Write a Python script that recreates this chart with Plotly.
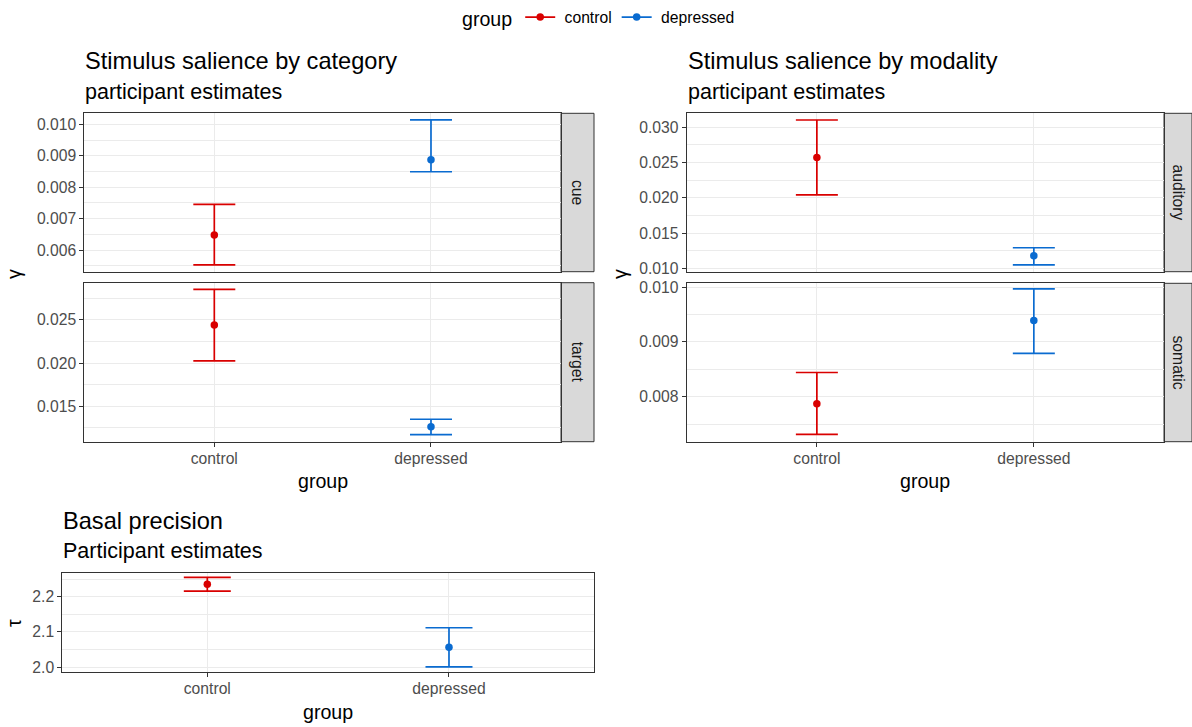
import plotly.graph_objects as go

W, H = 1192, 727

groups = ["control", "depressed"]

cue_mean = [0.00648, 0.00887]
cue_lo = [0.00553, 0.00849]
cue_hi = [0.00745, 0.01014]

target_mean = [0.02442, 0.01264]
target_lo = [0.02027, 0.01171]
target_hi = [0.02855, 0.01350]

auditory_mean = [0.02571, 0.01178]
auditory_lo = [0.02043, 0.01050]
auditory_hi = [0.03104, 0.01292]

somatic_mean = [0.007872, 0.00939]
somatic_lo = [0.007313, 0.00879]
somatic_hi = [0.008443, 0.00997]

basal_mean = [2.235, 2.057]
basal_lo = [2.216, 2.001]
basal_hi = [2.255, 2.112]

colors = {"control": "#D90000", "depressed": "#0A6BD0"}

FONT = "Liberation Sans, Arial, sans-serif"
TICK_COL = "#4D4D4D"
BORDER = "#333333"
GRID = "#EBEBEB"


def px_x(p):
    return p / W


def px_y(p):
    return 1 - p / H


fig = go.Figure()

# panels: (axis suffix, mean, lo, hi, x-pixel span, y-pixel span, y range, dtick, fmt, cap, bottom row)
panels = [
    ("", cue_mean, cue_lo, cue_hi, (84.3, 561), (113.3, 271.7), (0.00531, 0.01035), 0.001, ".3f", 21, False),
    ("2", target_mean, target_lo, target_hi, (84.3, 561), (282.7, 441.7), (0.0109, 0.02932), 0.005, ".3f", 21, True),
    ("3", auditory_mean, auditory_lo, auditory_hi, (686.7, 1164), (113.3, 271.7), (0.00952, 0.03199), 0.005, ".3f", 21, False),
    ("4", somatic_mean, somatic_lo, somatic_hi, (686.7, 1164), (283.3, 441.7), (0.00718, 0.01007), 0.001, ".3f", 21, True),
    ("5", basal_mean, basal_lo, basal_hi, (62.3, 594), (573.3, 671.7), (1.9875, 2.2663), 0.1, ".1f", 23.5, True),
]

layout_axes = {}
for suf, mean, lo, hi, xs, ys, yr, dt, fmt, cap, bottom in panels:
    for i, g in enumerate(groups):
        fig.add_trace(go.Scatter(
            x=[g], y=[mean[i]],
            mode="markers",
            marker=dict(color=colors[g], size=7.5),
            error_y=dict(type="data", symmetric=False,
                         array=[hi[i] - mean[i]], arrayminus=[mean[i] - lo[i]],
                         color=colors[g], thickness=1.7, width=cap),
            xaxis="x" + suf, yaxis="y" + suf,
            showlegend=False, hoverinfo="skip",
        ))
    layout_axes["xaxis" + suf] = dict(
        domain=[px_x(xs[0]), px_x(xs[1])],
        anchor="y" + suf,
        type="category", categoryorder="array", categoryarray=groups,
        range=[-0.6, 1.6],
        showgrid=True, gridcolor=GRID, gridwidth=1.1,
        showline=True, mirror=True, linecolor=BORDER, linewidth=1,
        ticks="outside" if bottom else "", ticklen=4, tickcolor=BORDER,
        showticklabels=bottom, ticklabelstandoff=-2,
        tickfont=dict(family=FONT, size=15.7, color=TICK_COL),
        zeroline=False, fixedrange=True,
    )
    layout_axes["yaxis" + suf] = dict(
        domain=[px_y(ys[1]), px_y(ys[0])],
        anchor="x" + suf,
        range=list(yr), dtick=dt, tick0=0, tickformat=fmt,
        showgrid=True, gridcolor=GRID, gridwidth=1.1,
        minor=dict(dtick=dt / 2, tick0=0, showgrid=True, gridcolor=GRID, gridwidth=0.6, ticks=""),
        showline=True, mirror=True, linecolor=BORDER, linewidth=1,
        ticks="outside", ticklen=4, tickcolor=BORDER,
        tickfont=dict(family=FONT, size=15.7, color=TICK_COL),
        zeroline=False, fixedrange=True,
    )

# legend-only entries (line + point key)
for g in groups:
    fig.add_trace(go.Scatter(
        x=[None], y=[None], mode="lines+markers", name="\u00a0" + g,
        line=dict(color=colors[g], width=1.7),
        marker=dict(color=colors[g], size=7.5),
        xaxis="x", yaxis="y", showlegend=True,
    ))

shapes = []
annotations = []

# facet strips
strips = [
    ("cue", (561, 594), (113.3, 271.7)),
    ("target", (561, 594), (282.7, 441.7)),
    ("auditory", (1164, 1192), (113.3, 271.7)),
    ("somatic", (1164, 1192), (283.3, 441.7)),
]
for label, xs, ys in strips:
    shapes.append(dict(type="rect", xref="paper", yref="paper",
                       x0=px_x(xs[0]), x1=px_x(xs[1]), y0=px_y(ys[1]), y1=px_y(ys[0]),
                       fillcolor="#D9D9D9", line=dict(color=BORDER, width=1), layer="below"))
    annotations.append(dict(text=label, xref="paper", yref="paper",
                            x=px_x((xs[0] + xs[1]) / 2), y=px_y((ys[0] + ys[1]) / 2),
                            textangle=90, showarrow=False,
                            font=dict(family=FONT, size=15.7, color="#1A1A1A"),
                            xanchor="center", yanchor="middle"))


def text(t, x, y, size, color="black", xanchor="left", angle=0):
    annotations.append(dict(text=t, xref="paper", yref="paper", x=px_x(x), y=px_y(y),
                            showarrow=False, textangle=angle,
                            font=dict(family=FONT, size=size, color=color),
                            xanchor=xanchor, yanchor="middle"))


# titles and subtitles
text("Stimulus salience by category", 83.3, 61.5, 23.6)
text("participant estimates", 83.3, 92, 21.5)
text("Stimulus salience by modality", 685.7, 61.5, 23.6)
text("participant estimates", 685.7, 92, 21.5)
text("Basal precision", 61.3, 520.5, 23.6)
text("Participant estimates", 61.3, 551, 21.5)

# axis titles
text("γ", 14, 274, 19.6, xanchor="center", angle=-90)
text("γ", 620, 274, 19.6, xanchor="center", angle=-90)
text("τ", 14, 623, 19.6, xanchor="center", angle=-90)
text("group", 322.6, 481, 19.6, xanchor="center")
text("group", 925.3, 481, 19.6, xanchor="center")
text("group", 328.1, 712, 19.6, xanchor="center")

fig.update_layout(
    width=W, height=H,
    margin=dict(l=0, r=0, t=0, b=0, autoexpand=False),
    paper_bgcolor="white", plot_bgcolor="white",
    font=dict(family=FONT),
    shapes=shapes, annotations=annotations,
    showlegend=True,
    legend=dict(orientation="h", x=600 / W, xanchor="center", y=0.9995, yanchor="top",
                title=dict(text="group", font=dict(family=FONT, size=19.6, color="black"), side="left"),
                font=dict(family=FONT, size=15.7, color="black"),
                itemwidth=30, tracegroupgap=0, bgcolor="rgba(0,0,0,0)"),
    **layout_axes,
)

fig.write_html("out.html")
